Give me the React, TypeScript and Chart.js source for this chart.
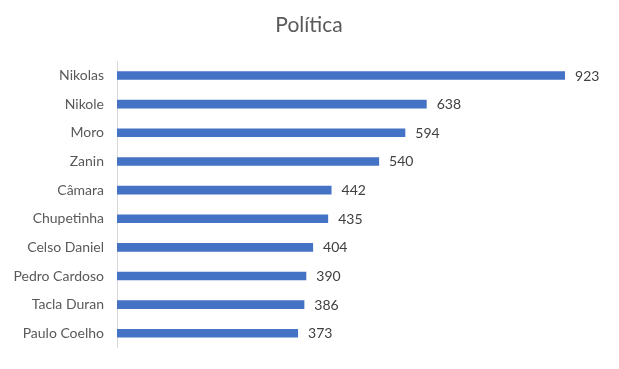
import React, { useEffect, useRef } from "react";
import { Chart, registerables } from "chart.js";

Chart.register(...registerables);

const categories = [
  "Nikolas",
  "Nikole",
  "Moro",
  "Zanin",
  "Câmara",
  "Chupetinha",
  "Celso Daniel",
  "Pedro Cardoso",
  "Tacla Duran",
  "Paulo Coelho",
];
const values = [923, 638, 594, 540, 442, 435, 404, 390, 386, 373];
const titleText = "Política";

const FONT = "Lato, 'Open Sans', sans-serif";

export default function App() {
  const ref = useRef<HTMLCanvasElement | null>(null);

  useEffect(() => {
    if (!ref.current) return;
    const labelPlugin = {
      id: "valueLabels",
      afterDatasetsDraw(chart: any) {
        const ctx = chart.ctx;
        const meta = chart.getDatasetMeta(0);
        ctx.save();
        ctx.font = `14px ${FONT}`;
        ctx.fillStyle = "#404040";
        ctx.textAlign = "left";
        ctx.textBaseline = "middle";
        meta.data.forEach((el: any, i: number) => {
          ctx.fillText(String(values[i]), el.x + 10, el.y + 0.5);
        });
        ctx.restore();
      },
      afterDraw(chart: any) {
        const ctx = chart.ctx;
        ctx.save();
        ctx.font = `21px ${FONT}`;
        ctx.fillStyle = "#595959";
        ctx.textAlign = "center";
        ctx.textBaseline = "middle";
        ctx.fillText(titleText, 309, 25);
        ctx.restore();
      },
    };
    const chart = new Chart(ref.current, {
      type: "bar",
      data: {
        labels: categories,
        datasets: [
          {
            data: values,
            backgroundColor: "#4472c4",
            categoryPercentage: 1,
            barPercentage: 0.3,
          },
        ],
      },
      options: {
        indexAxis: "y",
        animation: false,
        responsive: false,
        maintainAspectRatio: false,
        layout: { padding: { top: 61.2, bottom: 17.8, right: 16.6, left: 0 } },
        plugins: {
          legend: { display: false },
          title: { display: false },
          tooltip: { enabled: false },
        },
        scales: {
          x: {
            display: false,
            min: 0,
            max: 1000,
          },
          y: {
            afterFit(scale: any) {
              scale.width = 117;
            },
            grid: { display: false, drawTicks: false },
            border: { display: true, color: "#d9d9d9", width: 1 },
            ticks: {
              padding: 13,
              color: "#595959",
              font: { family: FONT, size: 14 },
            },
          },
        },
      },
      plugins: [labelPlugin],
    });
    return () => chart.destroy();
  }, []);

  return (
    <div style={{ position: "absolute", left: 0, top: 0, width: 619, height: 369, background: "#fff" }}>
      <canvas ref={ref} width={619} height={369} style={{ display: "block" }} />
    </div>
  );
}
